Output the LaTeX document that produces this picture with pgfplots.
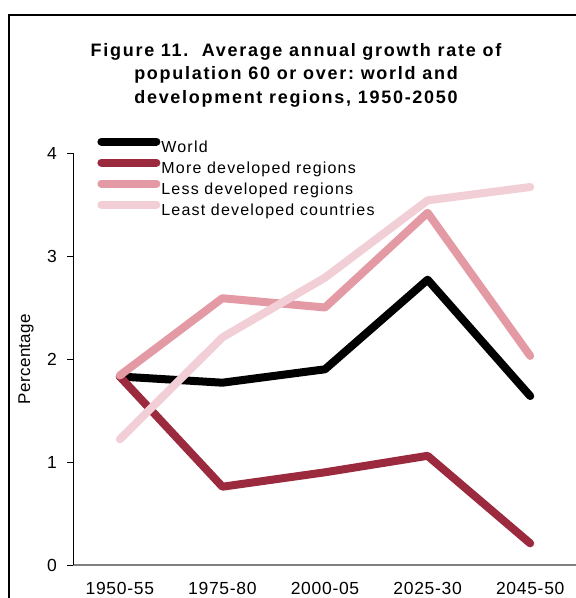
\documentclass[border=0pt]{standalone}
\usepackage{pgfplots}
\pgfplotsset{compat=1.18}
\usepackage{fontspec}
\setmainfont{Liberation Sans}
\frenchspacing

\definecolor{cmore}{HTML}{9B2A3E}
\definecolor{cless}{HTML}{E39AA5}
\definecolor{cleast}{HTML}{F2CED6}

\begin{document}
\begin{tikzpicture}[x=1pt,y=1pt]
  \clip (0,0) rectangle (576,598);
  \draw[line width=1.5pt] (9,-10) -- (9,583) -- (600,583);
  \node[font=\addfontfeature{LetterSpace=9.5}\fontsize{18}{23.5}\selectfont\bfseries, align=center]
    at (296,523) {Figure 11.\ \ Average annual growth rate of\\population 60 or over: world and\\development regions, 1950-2050};
  \begin{axis}[
      at={(73pt,33pt)}, anchor=south west,
      scale only axis,
      width=504pt, height=412pt,
      xmin=-0.456, xmax=4.456,
      ymin=0, ymax=4,
      xtick={0,1,2,3,4},
      xticklabels={1950-55,1975-80,2000-05,2025-30,2045-50},
      ytick={0,1,2,3,4},
      axis x line*=bottom,
      axis y line*=left,
      x axis line style={draw=gray, line width=2pt},
      y axis line style={draw=black, line width=0.8pt},
      tick align=outside,
      major tick length=6pt,
      xtick style={draw=none},
      ytick style={black, line width=0.8pt},
      tick label style={font=\addfontfeature{LetterSpace=4}\fontsize{17.5}{20}\selectfont},
      x tick label style={yshift=-8pt},
      y tick label style={xshift=-6.5pt},
      /pgf/number format/assume math mode=true,
      ylabel={Percentage},
      every axis y label/.style={at={(axis description cs:0,0.5)}, xshift=-47pt, rotate=90, anchor=center,
        font=\addfontfeature{LetterSpace=2}\fontsize{17}{20}\selectfont},
      legend style={at={(axis description cs:0.048,1.038)}, anchor=north west,
        draw=none, fill=none, inner sep=0pt, row sep=0pt, column sep=0pt,
        font=\addfontfeature{LetterSpace=7.5}\fontsize{16}{19}\selectfont,
        nodes={inner sep=1pt, text height=13pt, text depth=5pt}},
      legend cell align=left,
      legend image code/.code={\draw[#1, line cap=round] (0pt,7pt) -- (55pt,7pt);},
      every axis plot/.append style={line width=8pt, line join=round, line cap=round},
    ]
    \addplot[black] coordinates {(0,1.83) (1,1.77) (2,1.90) (3,2.77) (4,1.64)};
    \addplot[cmore] coordinates {(0,1.83) (1,0.76) (2,0.90) (3,1.06) (4,0.21)};
    \addplot[cless] coordinates {(0,1.84) (1,2.59) (2,2.50) (3,3.42) (4,2.03)};
    \addplot[cleast] coordinates {(0,1.22) (1,2.21) (2,2.79) (3,3.54) (4,3.67)};
    \legend{World,More developed regions,Less developed regions,Least developed countries}
  \end{axis}
\end{tikzpicture}
\end{document}
